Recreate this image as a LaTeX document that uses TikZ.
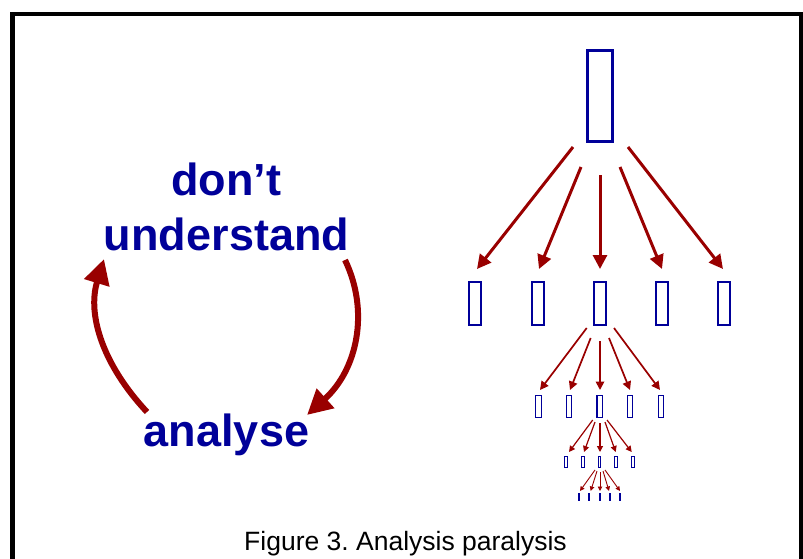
\documentclass[tikz,border=0pt]{standalone}
\usepackage{fontspec}
\setmainfont{Liberation Sans}
\usetikzlibrary{arrows.meta}
\definecolor{navy}{RGB}{0,0,153}
\definecolor{dred}{RGB}{153,0,0}
\frenchspacing
\begin{document}
\begin{tikzpicture}[x=1pt,y=-1pt,
  box/.style={draw=navy,inner sep=0pt,outer sep=0pt,rectangle},
  big/.style={font=\bfseries\fontsize{45}{55}\selectfont,text=navy,anchor=base,inner sep=0pt},
  loop/.style={draw=dred,line width=6pt,-{Triangle[length=25pt,width=25pt]}},
  arrA/.style={draw=dred,line width=3pt,-{Triangle[length=14pt,width=14pt]}},
  arrB/.style={draw=dred,line width=1.7pt,-{Triangle[length=8.5pt,width=8.5pt]}},
  arrC/.style={draw=dred,line width=1.2pt,-{Triangle[length=6pt,width=6pt]}},
  arrD/.style={draw=dred,line width=0.9pt,-{Triangle[length=4.5pt,width=4.5pt]}}]
\useasboundingbox (0,0) rectangle (803,559);
\clip (0,0) rectangle (803,559);
% frame
\draw[line width=4.6pt] (12.5,580) -- (12.5,14) -- (801,14) -- (801,580);

% left cycle
\node[big] (dont) at (226,195) {don’t};
\node[big] (under) at (226.5,250) {understand};
\node[big] (ana) at (226.5,446) {analyse};
\coordinate (l0) at (147,412);
\coordinate (l1) at (104,259);
\coordinate (r0) at (345,260);
\coordinate (r1) at (307,415);
\draw[loop] (l0) .. controls (103,365) and (87,315) .. (l1);
\draw[loop] (r0) .. controls (370,312) and (357,370) .. (r1);

% tree level 1
\node[box,line width=3pt,minimum width=25pt,minimum height=91pt] (t0) at (600,96) {};
% level 2
\foreach \i/\x in {1/475,2/537.5,3/599.5,4/661.5,5/723.5}
  \node[box,line width=2pt,minimum width=12pt,minimum height=43pt] (a\i) at (\x,303.5) {};
\coordinate (s1) at (573,147); \coordinate (e1) at (477,269);
\coordinate (s2) at (581,167); \coordinate (e2) at (539,269);
\coordinate (s3) at (600,175); \coordinate (e3) at (600,269);
\coordinate (s4) at (620,167); \coordinate (e4) at (662,269);
\coordinate (s5) at (628,147); \coordinate (e5) at (723,269);
\foreach \i in {1,...,5} \draw[arrA] (s\i) -- (e\i);
% level 3
\foreach \i/\x in {1/538.5,2/569,3/599.7,4/630,5/661}
  \node[box,line width=1.3pt,minimum width=5.5pt,minimum height=21.5pt] (b\i) at (\x,406.5) {};
\coordinate (u1) at (586.7,328); \coordinate (v1) at (540,390);
\coordinate (u2) at (590.7,338); \coordinate (v2) at (570,390);
\coordinate (u3) at (600,341);   \coordinate (v3) at (600,390);
\coordinate (u4) at (609,338);   \coordinate (v4) at (630,390);
\coordinate (u5) at (614,328);   \coordinate (v5) at (660,390);
\foreach \i in {1,...,5} \draw[arrB] (u\i) -- (v\i);
% level 4
\foreach \i/\x in {1/566,2/583,3/599.5,4/616,5/633}
  \node[box,line width=1pt,minimum width=2.2pt,minimum height=11pt] (c\i) at (\x,462) {};
\coordinate (p1) at (592.7,420); \coordinate (q1) at (569,452);
\coordinate (p2) at (595,422);   \coordinate (q2) at (584,452);
\coordinate (p3) at (600,423);   \coordinate (q3) at (600,452);
\coordinate (p4) at (605,422);   \coordinate (q4) at (615.7,452);
\coordinate (p5) at (607,420);   \coordinate (q5) at (631.7,452);
\foreach \i in {1,...,5} \draw[arrC] (p\i) -- (q\i);
% level 5
\foreach \i/\x in {1/579,2/589,3/599.7,4/610,5/620}
  \node[box,fill=navy,draw=none,minimum width=2pt,minimum height=7.5pt] (d\i) at (\x,496.8) {};
\coordinate (m1) at (595,470); \coordinate (n1) at (580,491);
\coordinate (m2) at (597,471); \coordinate (n2) at (590.7,491);
\coordinate (m3) at (600,472); \coordinate (n3) at (600,491);
\coordinate (m4) at (603,471); \coordinate (n4) at (609,491);
\coordinate (m5) at (605,470); \coordinate (n5) at (620,491);
\foreach \i in {1,...,5} \draw[arrD] (m\i) -- (n\i);

% caption
\node[anchor=base,inner sep=0pt,font=\fontsize{26.5}{30}\selectfont] (cap) at (405.5,550) {Figure 3. Analysis paralysis};
\end{tikzpicture}
\end{document}
